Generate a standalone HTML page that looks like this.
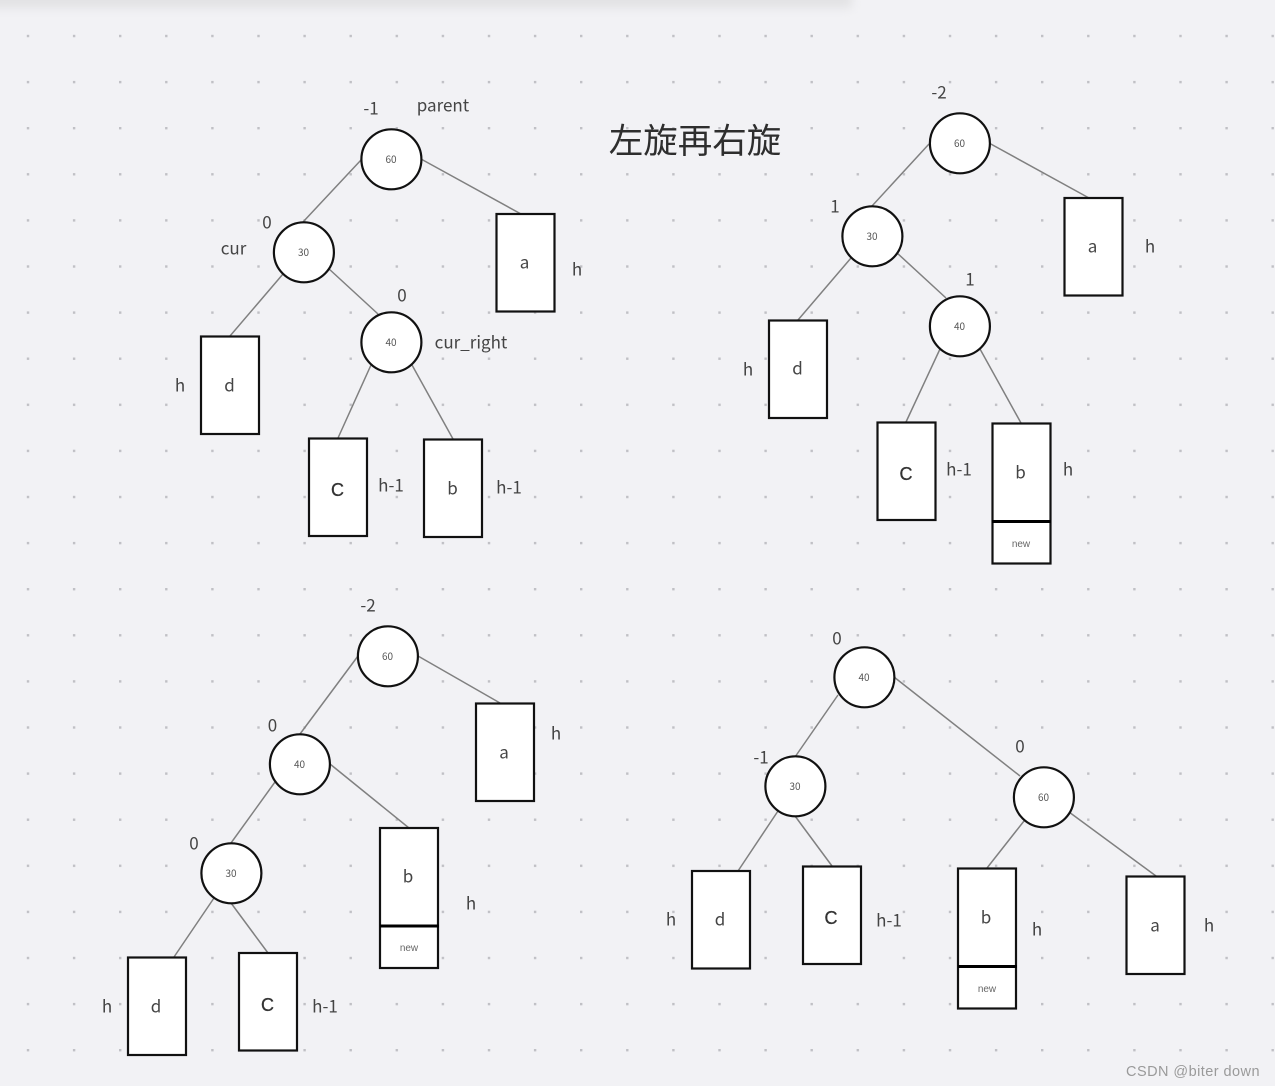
<!DOCTYPE html>
<html lang="zh">
<head>
<meta charset="utf-8">
<title>左旋再右旋</title>
<style>
html,body{margin:0;padding:0;background:#f2f2f5}
svg{display:block}
text{font-family:"Noto Sans CJK SC","Liberation Sans",sans-serif;fill:#444;text-anchor:middle}
.l{font-size:17px;transform:translateY(.7px)}
.c{font-size:18px;font-family:"Liberation Sans",sans-serif;fill:#333;stroke:#333;stroke-width:.3}
.n{font-size:10px;fill:#555}
.w{font-size:10px;fill:#666;font-family:"Liberation Sans",sans-serif}
.e{stroke:#808080;stroke-width:1.5;fill:none}
circle{fill:#fff;stroke:#111;stroke-width:2.2;transform:translate(.4px,.3px)}
rect.b{fill:#fff;stroke:#111;stroke-width:2.2}
</style>
</head>
<body>
<svg width="1275" height="1086" viewBox="0 0 1275 1086" xmlns="http://www.w3.org/2000/svg">
<defs>
<pattern id="dots" x="26.800" y="34.800" width="46.1" height="46.1" patternUnits="userSpaceOnUse">
<rect width="2.400" height="2.400" fill="#c0c0c5"/>
</pattern>
<filter id="soft" x="-5%" y="-200%" width="110%" height="500%">
<feGaussianBlur stdDeviation="5"/>
</filter>
</defs>
<rect width="1275" height="1086" fill="#f2f2f5"/>
<rect width="1275" height="1086" fill="url(#dots)"/>
<rect x="-20" y="-12" width="872" height="20" fill="#e2e2e4" filter="url(#soft)"/>

<text x="695" y="153" style="font-size:34.500px;fill:#2e2e2e">左旋再右旋</text>

<!-- Top-left tree -->
<g class="e">
<line x1="361" y1="160" x2="303" y2="222"/>
<line x1="421" y1="159" x2="521" y2="214"/>
<line x1="283" y1="274" x2="230" y2="336"/>
<line x1="328" y1="268" x2="378" y2="314"/>
<line x1="371" y1="365" x2="338" y2="438"/>
<line x1="412" y1="365" x2="453" y2="439"/>
</g>
<circle cx="391" cy="159" r="30"/>
<circle cx="303.500" cy="252" r="30"/>
<circle cx="391" cy="342" r="30"/>
<rect class="b" x="496.500" y="214" width="58" height="97.500"/>
<rect class="b" x="201" y="336.500" width="58" height="97.500"/>
<rect class="b" x="309" y="438.500" width="58" height="97.500"/>
<rect class="b" x="424" y="439.500" width="58" height="97.500"/>
<text class="n" x="391" y="163">60</text>
<text class="n" x="303.500" y="256">30</text>
<text class="n" x="391" y="346">40</text>
<text class="l" x="371" y="114">-1</text>
<text class="l" x="443" y="111">parent</text>
<text class="l" x="267" y="228">0</text>
<text class="l" x="233.500" y="254">cur</text>
<text class="l" x="402" y="301">0</text>
<text class="l" x="471" y="348">cur_right</text>
<text class="l" x="524.500" y="268">a</text>
<text class="l" x="577" y="275">h</text>
<text class="l" x="229.500" y="391">d</text>
<text class="l" x="180" y="391">h</text>
<text class="c" x="337.500" y="496">C</text>
<text class="l" x="391" y="491">h-1</text>
<text class="l" x="452.500" y="494">b</text>
<text class="l" x="509" y="493">h-1</text>

<!-- Top-right tree -->
<g class="e">
<line x1="929" y1="144" x2="872" y2="206"/>
<line x1="989" y1="143" x2="1089" y2="198"/>
<line x1="851" y1="258" x2="798" y2="320"/>
<line x1="896" y1="252" x2="946" y2="298"/>
<line x1="940" y1="349" x2="906" y2="422"/>
<line x1="980" y1="349" x2="1021" y2="423"/>
</g>
<circle cx="959.500" cy="143" r="30"/>
<circle cx="872" cy="236" r="30"/>
<circle cx="959.500" cy="326" r="30"/>
<rect class="b" x="1064.500" y="198" width="58" height="97.500"/>
<rect class="b" x="769" y="320.500" width="58" height="97.500"/>
<rect class="b" x="877.500" y="422.500" width="58" height="97.500"/>
<rect class="b" x="992.500" y="423.500" width="58" height="140"/>
<line x1="992" y1="521.500" x2="1051" y2="521.500" stroke="#000" stroke-width="3"/>
<text class="n" x="959.500" y="147">60</text>
<text class="n" x="872" y="240">30</text>
<text class="n" x="959.500" y="330">40</text>
<text class="l" x="939" y="98">-2</text>
<text class="l" x="835" y="212">1</text>
<text class="l" x="970" y="285">1</text>
<text class="l" x="1092.500" y="252">a</text>
<text class="l" x="1150" y="252">h</text>
<text class="l" x="797.500" y="374">d</text>
<text class="l" x="748" y="375">h</text>
<text class="c" x="906" y="480">C</text>
<text class="l" x="959" y="475">h-1</text>
<text class="l" x="1020.500" y="478">b</text>
<text class="l" x="1068" y="475">h</text>
<text class="w" x="1021" y="547">new</text>

<!-- Bottom-left tree -->
<g class="e">
<line x1="358" y1="656" x2="300" y2="734"/>
<line x1="418" y1="656" x2="500" y2="703"/>
<line x1="275" y1="782" x2="231" y2="843"/>
<line x1="330" y1="764" x2="409" y2="828"/>
<line x1="214" y1="898" x2="174" y2="957"/>
<line x1="231" y1="903" x2="268" y2="953"/>
</g>
<circle cx="387.500" cy="656" r="30"/>
<circle cx="299.500" cy="764" r="30"/>
<circle cx="231" cy="873" r="30"/>
<rect class="b" x="476" y="703.500" width="58" height="97.500"/>
<rect class="b" x="380" y="828" width="58" height="140"/>
<line x1="380" y1="926" x2="439" y2="926" stroke="#000" stroke-width="3"/>
<rect class="b" x="128" y="957.500" width="58" height="97.500"/>
<rect class="b" x="239" y="953" width="58" height="97.500"/>
<text class="n" x="387.500" y="660">60</text>
<text class="n" x="299.500" y="768">40</text>
<text class="n" x="231" y="877">30</text>
<text class="l" x="368" y="611">-2</text>
<text class="l" x="272.500" y="731">0</text>
<text class="l" x="194" y="849">0</text>
<text class="l" x="504" y="758">a</text>
<text class="l" x="556" y="739">h</text>
<text class="l" x="408" y="882">b</text>
<text class="l" x="471" y="909">h</text>
<text class="w" x="409" y="951">new</text>
<text class="l" x="156" y="1012">d</text>
<text class="l" x="107" y="1012">h</text>
<text class="c" x="267.500" y="1011">C</text>
<text class="l" x="325" y="1012">h-1</text>

<!-- Bottom-right tree -->
<g class="e">
<line x1="838" y1="695" x2="795" y2="757"/>
<line x1="894" y1="677" x2="1020" y2="776"/>
<line x1="778" y1="811" x2="738" y2="871"/>
<line x1="795" y1="816" x2="832" y2="866"/>
<line x1="1024" y1="821" x2="987" y2="868"/>
<line x1="1069" y1="812" x2="1156" y2="876"/>
</g>
<circle cx="864" cy="677" r="30"/>
<circle cx="795" cy="786" r="30"/>
<circle cx="1043.500" cy="797" r="30"/>
<rect class="b" x="692" y="871" width="58" height="97.500"/>
<rect class="b" x="803" y="866.500" width="58" height="97.500"/>
<rect class="b" x="958" y="868.500" width="58" height="140"/>
<line x1="958" y1="966.500" x2="1017" y2="966.500" stroke="#000" stroke-width="3"/>
<rect class="b" x="1126.500" y="876.500" width="58" height="97.500"/>
<text class="n" x="864" y="681">40</text>
<text class="n" x="795" y="790">30</text>
<text class="n" x="1043.500" y="801">60</text>
<text class="l" x="837" y="644">0</text>
<text class="l" x="761" y="763">-1</text>
<text class="l" x="1020" y="752">0</text>
<text class="l" x="720" y="925">d</text>
<text class="l" x="671" y="925">h</text>
<text class="c" x="831" y="924">C</text>
<text class="l" x="889" y="926">h-1</text>
<text class="l" x="986" y="923">b</text>
<text class="l" x="1037" y="935">h</text>
<text class="w" x="987" y="992">new</text>
<text class="l" x="1155" y="931">a</text>
<text class="l" x="1209" y="931">h</text>

<text x="1193" y="1076" style="font-family:'Liberation Sans',sans-serif;font-size:14.500px;fill:#9a9a9a;letter-spacing:.45px">CSDN @biter down</text>
</svg>
</body>
</html>
